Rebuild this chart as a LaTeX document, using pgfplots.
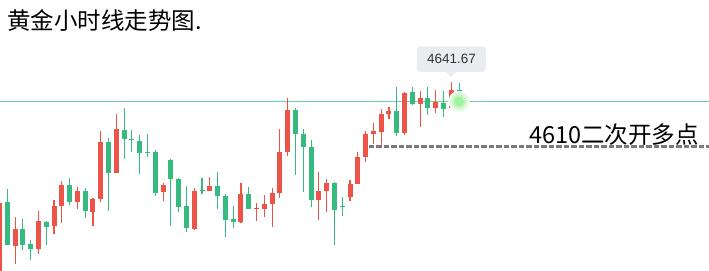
\documentclass[border=0pt]{standalone}
\usepackage{pgfplots}
\usepackage{pgfplotstable}
\pgfplotsset{compat=1.18}
\usepackage{fontspec}
\setmainfont{Liberation Sans}
\newfontfamily\cjk{Noto Sans CJK SC}
\definecolor{cred}{RGB}{236,84,72}
\definecolor{cgreen}{RGB}{54,186,128}
\definecolor{hline}{RGB}{110,210,165}
\definecolor{tipbg}{RGB}{233,236,240}
\definecolor{tiptxt}{RGB}{51,51,51}
\definecolor{glow}{RGB}{90,235,90}

% x o h l c  (red = up, green = down)
\pgfplotstableread{
x o h l c
0 4520.0 4571.7 4515.0 4571.2
2 4541.3 4561.3 4528.8 4552.9
5 4539.2 4565.5 4535.7 4558.5
7 4555.2 4573.1 4549.7 4568.9
8 4569.1 4586.3 4557.3 4583.6
10 4571.9 4582.2 4567.1 4579.4
12 4565.0 4574.5 4555.2 4573.8
13 4574.0 4621.1 4571.9 4613.5
15 4592.1 4633.0 4592.1 4622.5
21 4578.9 4584.9 4572.6 4583.6
25 4553.1 4581.5 4552.4 4579.4
27 4579.6 4589.1 4579.6 4582.9
31 4558.0 4584.9 4557.3 4577.3
33 4567.1 4571.0 4558.7 4567.8
34 4567.1 4576.6 4561.5 4570.3
35 4570.5 4581.5 4554.5 4578.0
36 4578.2 4622.5 4574.7 4606.5
37 4606.7 4644.1 4603.9 4635.8
41 4573.3 4592.6 4559.4 4579.4
42 4579.6 4587.7 4565.0 4584.9
45 4575.4 4587.0 4572.6 4584.2
46 4584.5 4606.5 4584.5 4603.0
47 4603.3 4621.3 4599.8 4619.0
48 4619.3 4626.7 4612.3 4621.1
49 4620.6 4636.4 4610.9 4633.0
50 4633.2 4637.8 4629.7 4635.3
52 4620.0 4648.5 4618.6 4647.8
54 4640.1 4649.0 4624.1 4644.1
56 4637.4 4649.7 4633.9 4641.3
58 4637.4 4655.2 4637.4 4649.7
}\redtab

\pgfplotstableread{
x o h l c
1 4571.7 4580.8 4542.0 4542.0
3 4552.9 4559.9 4538.5 4542.0
4 4542.5 4545.3 4531.6 4539.2
6 4557.8 4558.5 4542.0 4554.5
9 4583.6 4588.4 4569.8 4571.9
11 4579.4 4581.5 4560.8 4565.7
14 4613.5 4616.3 4565.7 4592.1
16 4621.8 4637.1 4601.9 4615.8
17 4615.6 4621.8 4606.7 4615.1
18 4614.2 4618.4 4591.4 4606.0
19 4606.5 4619.0 4603.3 4606.0
20 4606.5 4607.9 4576.1 4578.2
22 4601.0 4601.6 4555.2 4587.9
23 4587.7 4588.4 4565.0 4568.4
24 4568.9 4582.9 4551.1 4553.8
26 4580.1 4588.4 4577.5 4579.6
28 4582.9 4592.6 4567.1 4576.1
29 4575.9 4577.3 4547.6 4559.4
30 4559.9 4568.9 4553.8 4558.0
32 4577.3 4582.2 4567.1 4567.1
38 4635.8 4637.1 4590.7 4619.3
39 4619.0 4622.5 4578.9 4610.2
40 4610.0 4614.9 4568.4 4573.3
43 4584.9 4585.6 4542.0 4566.4
44 4568.7 4575.4 4562.2 4568.2
51 4635.1 4651.8 4617.9 4620.0
53 4648.3 4651.8 4639.4 4640.1
55 4644.1 4651.8 4632.5 4637.4
57 4640.8 4649.0 4631.1 4636.7
59 4649.7 4654.5 4641.67 4641.67
}\greentab

\begin{document}
\begin{tikzpicture}
\useasboundingbox (0,0) rectangle (709bp,271bp);
\begin{axis}[
  at={(0,0)}, anchor=south west,
  scale only axis, width=709bp, height=271bp,
  hide axis,
  xmin=0.064, xmax=91.08,
  ymin=4523.69, ymax=4712.31,
  clip=true,
]
% glow on the last price (drawn behind the candles)
\addplot[draw=none, mark=*, mark size=10.5bp, mark options={draw=glow!10, fill=glow!10}] coordinates {(59,4641.67)};
\addplot[draw=none, mark=*, mark size=8.5bp, mark options={draw=glow!22, fill=glow!22}] coordinates {(59,4641.67)};
\addplot[draw=none, mark=*, mark size=6.5bp, mark options={draw=glow!38, fill=glow!38}] coordinates {(59,4641.67)};
\addplot[draw=none, mark=*, mark size=4.5bp, mark options={draw=glow!58, fill=glow!58}] coordinates {(59,4641.67)};

% current price line
\addplot[draw=hline, line width=1.3bp, mark=none] coordinates {(0,4641.67) (92,4641.67)};
% 4610 dashed level
\addplot[draw=black!52, line width=3bp, dash pattern=on 5.5bp off 2bp, mark=none] coordinates {(47.43,4610) (92,4610)};

% wicks
\addplot[draw=none, mark=none, error bars/.cd, y dir=plus, y explicit, error mark=none,
  error bar style={line width=1.1bp, draw=cred, solid}]
  table[x=x, y=l, y error plus expr={\thisrow{h}-\thisrow{l}}] {\redtab};
\addplot[draw=none, mark=none, error bars/.cd, y dir=plus, y explicit, error mark=none,
  error bar style={line width=1.1bp, draw=cgreen, solid}]
  table[x=x, y=l, y error plus expr={\thisrow{h}-\thisrow{l}}] {\greentab};
% bodies
\addplot[draw=none, mark=none, error bars/.cd, y dir=plus, y explicit, error mark=none,
  error bar style={line width=5bp, draw=cred, solid}]
  table[x=x, y expr={min(\thisrow{o},\thisrow{c})}, y error plus expr={max(abs(\thisrow{c}-\thisrow{o}),0.7)}] {\redtab};
\addplot[draw=none, mark=none, error bars/.cd, y dir=plus, y explicit, error mark=none,
  error bar style={line width=5bp, draw=cgreen, solid}]
  table[x=x, y expr={min(\thisrow{o},\thisrow{c})}, y error plus expr={max(abs(\thisrow{c}-\thisrow{o}),0.7)}] {\greentab};

% tooltip
\fill[tipbg] (axis cs:57.19,4662.9) -- (axis cs:58.73,4662.9) -- (axis cs:57.96,4658.7) -- cycle;
\node[fill=tipbg, rounded corners=3bp, minimum width=69bp, minimum height=25.5bp, inner sep=0pt,
  text=tiptxt, font=\fontsize{13.5bp}{16bp}\selectfont] at (axis cs:58.02,4671.1) {4641.67};

% texts
\node[anchor=base west, inner sep=0pt, font=\cjk\fontsize{23.5bp}{28bp}\selectfont]
  at (rel axis cs:0.00987,0.8893) {黄金小时线走势图.};
\node[anchor=base east, inner sep=0pt, font=\cjk\fontsize{23.5bp}{28bp}\selectfont]
  at (rel axis cs:0.9859,0.4723) {4610二次开多点};
\end{axis}
\end{tikzpicture}
\end{document}
